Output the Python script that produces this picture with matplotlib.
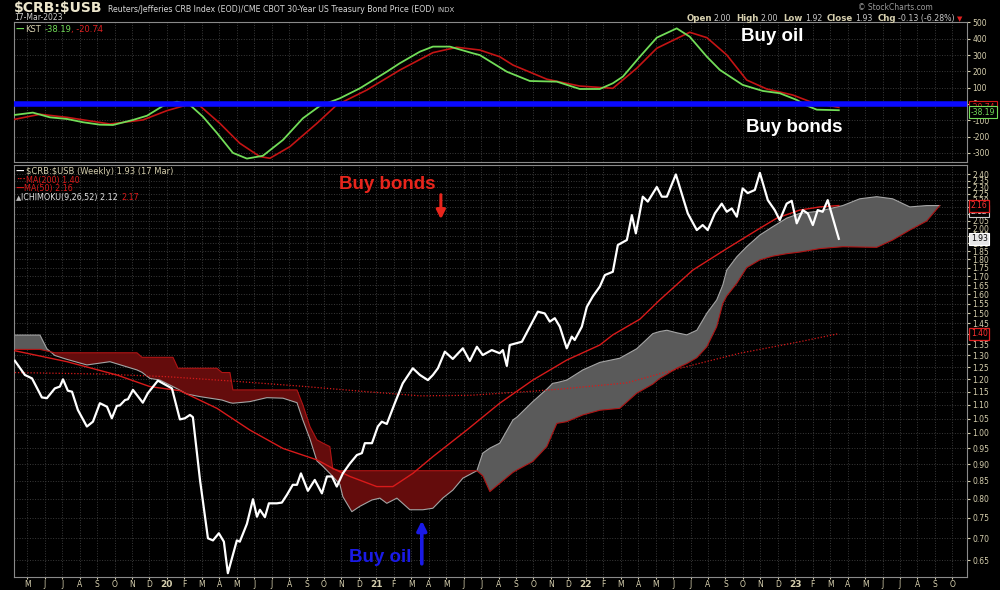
import numpy as np
import matplotlib
matplotlib.use('Agg')
import matplotlib.pyplot as plt
from matplotlib.transforms import IdentityTransform, blended_transform_factory
from matplotlib.ticker import FixedLocator, NullLocator, FuncFormatter

plt.rcParams['font.family'] = 'DejaVu Sans'
plt.rcParams['axes.unicode_minus'] = False

# ---- data (time as fractional years) ----
price_t = [2019.274, 2019.322, 2019.356, 2019.403, 2019.427, 2019.465, 2019.489, 2019.504, 2019.527, 2019.547,
           2019.575, 2019.618, 2019.647, 2019.680, 2019.714, 2019.737, 2019.761, 2019.776, 2019.800, 2019.814,
           2019.838, 2019.885, 2019.909, 2019.957, 2020.024, 2020.062, 2020.086, 2020.110, 2020.124, 2020.158,
           2020.196, 2020.220, 2020.248, 2020.272, 2020.291, 2020.334, 2020.348, 2020.382, 2020.411, 2020.430,
           2020.444, 2020.468, 2020.487, 2020.525, 2020.549, 2020.573, 2020.601, 2020.621, 2020.640, 2020.673,
           2020.706, 2020.740, 2020.764, 2020.788, 2020.811, 2020.840, 2020.874, 2020.907, 2020.931, 2020.945,
           2020.979, 2021.007, 2021.026, 2021.050, 2021.088, 2021.126, 2021.174, 2021.208, 2021.246, 2021.270,
           2021.294, 2021.327, 2021.365, 2021.413, 2021.446, 2021.480, 2021.508, 2021.551, 2021.589, 2021.604,
           2021.623, 2021.637, 2021.695, 2021.733, 2021.771, 2021.804, 2021.828, 2021.852, 2021.876, 2021.909,
           2021.933, 2021.947, 2021.981, 2022.005, 2022.033, 2022.067, 2022.091, 2022.129, 2022.153, 2022.196,
           2022.220, 2022.239, 2022.272, 2022.296, 2022.339, 2022.363, 2022.387, 2022.430, 2022.487, 2022.530,
           2022.558, 2022.582, 2022.616, 2022.649, 2022.673, 2022.697, 2022.721, 2022.749, 2022.773, 2022.807,
           2022.831, 2022.869, 2022.902, 2022.926, 2022.959, 2022.983, 2023.007, 2023.036, 2023.060, 2023.084,
           2023.107, 2023.131, 2023.155, 2023.208]
price = [1.277, 1.217, 1.203, 1.128, 1.125, 1.163, 1.170, 1.199, 1.154, 1.150,
         1.081, 1.022, 1.039, 1.106, 1.093, 1.051, 1.096, 1.098, 1.118, 1.121,
         1.157, 1.108, 1.144, 1.194, 1.163, 1.047, 1.051, 1.063, 1.055, 0.853,
         0.700, 0.695, 0.712, 0.692, 0.622, 0.695, 0.692, 0.735, 0.799, 0.753,
         0.771, 0.752, 0.788, 0.788, 0.790, 0.811, 0.839, 0.839, 0.872, 0.822,
         0.853, 0.815, 0.863, 0.863, 0.834, 0.872, 0.902, 0.928, 0.934, 0.966,
         0.966, 1.022, 1.039, 1.031, 1.106, 1.183, 1.245, 1.217, 1.196, 1.217,
         1.245, 1.317, 1.285, 1.332, 1.276, 1.339, 1.302, 1.324, 1.310, 1.324,
         1.255, 1.347, 1.362, 1.433, 1.508, 1.499, 1.458, 1.475, 1.433, 1.332,
         1.386, 1.370, 1.433, 1.533, 1.587, 1.642, 1.707, 1.726, 1.890, 1.922,
         2.091, 1.966, 2.226, 2.189, 2.300, 2.226, 2.226, 2.400, 2.103, 1.988,
         2.022, 1.988, 2.103, 2.174, 2.115, 2.139, 2.080, 2.289, 2.253, 2.277,
         2.413, 2.200, 2.127, 2.056, 2.174, 2.195, 2.034, 2.127, 2.103, 2.022,
         2.127, 2.115, 2.200, 1.930]

ma50_t = [2019.274, 2019.523, 2019.761, 2019.919, 2020.062, 2020.239, 2020.396, 2020.554, 2020.716, 2020.792,
          2020.874, 2021.002, 2021.079, 2021.174, 2021.270, 2021.432, 2021.589, 2021.747, 2021.909, 2022.067,
          2022.129, 2022.258, 2022.353, 2022.511, 2022.673, 2022.831, 2022.912, 2023.021, 2023.117, 2023.208]
ma50 = [1.321, 1.273, 1.217, 1.170, 1.154, 1.087, 1.010, 0.949, 0.913, 0.887,
        0.863, 0.834, 0.834, 0.872, 0.923, 1.010, 1.106, 1.196, 1.280, 1.347,
        1.394, 1.470, 1.569, 1.736, 1.867, 2.000, 2.070, 2.127, 2.150, 2.160]

ma200_t = [2019.274, 2019.680, 2020.000, 2020.315, 2020.635, 2020.955, 2021.208, 2021.446, 2021.747, 2021.876,
           2022.196, 2022.449, 2022.735, 2023.021, 2023.208]
ma200 = [1.227, 1.221, 1.210, 1.192, 1.172, 1.150, 1.134, 1.136, 1.152, 1.160,
         1.185, 1.245, 1.310, 1.362, 1.400]

# Ichimoku cloud: senkou span A / span B
cloud_t = [2019.274, 2019.394, 2019.427, 2019.465, 2019.523, 2019.618, 2019.728, 2019.857, 2019.881, 2019.919,
           2019.967, 2020.029, 2020.053, 2020.095, 2020.158, 2020.239, 2020.263, 2020.301, 2020.315, 2020.396,
           2020.477, 2020.554, 2020.621, 2020.649, 2020.683, 2020.716, 2020.745, 2020.778, 2020.792, 2020.826,
           2020.840, 2020.883, 2020.921, 2020.979, 2021.017, 2021.050, 2021.098, 2021.160, 2021.222, 2021.270,
           2021.317, 2021.365, 2021.413, 2021.480, 2021.508, 2021.542, 2021.589, 2021.652, 2021.671, 2021.747,
           2021.814, 2021.842, 2021.862, 2021.909, 2021.986, 2022.067, 2022.162, 2022.243, 2022.320, 2022.353,
           2022.387, 2022.434, 2022.482, 2022.530, 2022.578, 2022.625, 2022.654, 2022.673, 2022.721, 2022.768,
           2022.831, 2022.893, 2022.959, 2023.021, 2023.117, 2023.227, 2023.308, 2023.389, 2023.465, 2023.547,
           2023.628, 2023.690]
span_a = [1.393, 1.393, 1.330, 1.300, 1.283, 1.259, 1.273, 1.238, 1.228, 1.203,
          1.196, 1.170, 1.160, 1.141, 1.131, 1.121, 1.118, 1.108, 1.106, 1.112,
          1.127, 1.125, 1.108, 1.045, 0.980, 0.910, 0.893, 0.872, 0.863, 0.840,
          0.806, 0.766, 0.780, 0.797, 0.802, 0.788, 0.802, 0.771, 0.771, 0.775,
          0.802, 0.824, 0.858, 0.880, 0.934, 0.950, 0.966, 1.045, 1.055, 1.112,
          1.160, 1.183, 1.186, 1.196, 1.238, 1.270, 1.288, 1.330, 1.400, 1.410,
          1.416, 1.404, 1.394, 1.416, 1.500, 1.569, 1.650, 1.736, 1.816, 1.879,
          1.955, 2.011, 2.070, 2.103, 2.120, 2.160, 2.210, 2.226, 2.210, 2.150,
          2.160, 2.160]
span_b = [1.327, 1.327, 1.320, 1.312, 1.312, 1.312, 1.312, 1.312, 1.292, 1.292,
          1.292, 1.292, 1.245, 1.245, 1.245, 1.245, 1.227, 1.227, 1.157, 1.157,
          1.157, 1.157, 1.157, 1.100, 1.022, 0.977, 0.966, 0.955, 0.885, 0.880,
          0.880, 0.880, 0.880, 0.880, 0.880, 0.880, 0.880, 0.880, 0.880, 0.880,
          0.880, 0.880, 0.880, 0.880, 0.865, 0.820, 0.843, 0.875, 0.882, 0.908,
          0.955, 1.000, 1.033, 1.039, 1.063, 1.080, 1.087, 1.144, 1.180, 1.203,
          1.220, 1.245, 1.265, 1.290, 1.339, 1.433, 1.550, 1.590, 1.660, 1.750,
          1.797, 1.820, 1.835, 1.845, 1.867, 1.879, 1.877, 1.875, 1.922, 1.988,
          2.050, 2.160]

kst_t = [2019.274, 2019.360, 2019.442, 2019.523, 2019.599, 2019.680, 2019.742, 2019.838, 2019.905, 2019.981,
         2020.048, 2020.110, 2020.172, 2020.239, 2020.315, 2020.382, 2020.458, 2020.554, 2020.649, 2020.730,
         2020.826, 2020.921, 2021.050, 2021.112, 2021.208, 2021.270, 2021.351, 2021.461, 2021.494, 2021.623,
         2021.733, 2021.862, 2021.971, 2022.067, 2022.129, 2022.177, 2022.258, 2022.339, 2022.434, 2022.496,
         2022.578, 2022.640, 2022.749, 2022.845, 2022.926, 2023.007, 2023.055, 2023.103, 2023.208]
kst = [-67, -53, -82, -92, -112, -127, -129, -98, -72, -12,
       14, -6, -78, -178, -300, -335, -318, -221, -88, -12,
       35, 96, 198, 250, 321, 352, 352, 311, 300, 198,
       141, 137, 92, 92, 127, 168, 290, 407, 464, 413,
       290, 209, 117, 80, 66, 25, -10, -35, -38.19]

sig_t = [2019.274, 2019.394, 2019.523, 2019.728, 2019.885, 2020.000, 2020.095, 2020.158, 2020.253, 2020.348,
         2020.444, 2020.492, 2020.587, 2020.716, 2020.811, 2020.955, 2021.112, 2021.270, 2021.384, 2021.494,
         2021.589, 2021.652, 2021.814, 2021.971, 2022.129, 2022.243, 2022.339, 2022.496, 2022.578, 2022.673,
         2022.768, 2022.864, 2022.988, 2023.084, 2023.208]
sig = [-94, -63, -82, -123, -98, -41, -6, -12, -119, -241,
       -323, -333, -262, -119, -6, 86, 208, 315, 348, 331,
       290, 239, 152, 110, 96, 219, 342, 440, 407, 301,
       147, 92, 55, 8, -20.74]

price_ticks = [round(0.65 + 0.05 * i, 2) for i in range(36)]
kst_ticks = [-300, -200, -100, 0, 100, 200, 300, 400, 500]

BG = '#000000'
BEIGE = '#d6cfae'
GRID = '#3a3a3a'
RED = '#d81a1a'

fig = plt.figure(figsize=(10, 5.9), dpi=100, facecolor=BG)
ax1 = fig.add_axes([0.014, 1 - 162 / 590, 0.953, 140 / 590])
ax2 = fig.add_axes([0.014, 1 - 577 / 590, 0.953, 412 / 590])

x0, x1 = 2019.27, 2023.82
month_t, month_lab = [], []
for yr in range(2019, 2024):
    for m in range(1, 13):
        t = yr + (m - 1) / 12
        if x0 < t < x1:
            month_t.append(t)
            month_lab.append(str(yr)[2:] if m == 1 else 'JFMAMJJASOND'[m - 1])

for ax in (ax1, ax2):
    ax.set_facecolor(BG)
    ax.set_xlim(x0, x1)
    ax.set_xticks(month_t)
    ax.grid(True, color=GRID, ls=':', lw=0.7)
    ax.set_axisbelow(True)
    for s in ax.spines.values():
        s.set_color('#8a8a8a')
        s.set_linewidth(0.8)
    ax.yaxis.tick_right()
    ax.tick_params(axis='both', colors=BEIGE, labelsize=5.5, length=2, pad=2)
ax1.tick_params(axis='x', labelbottom=False, length=0)
ax2.tick_params(axis='x', pad=1, length=1.5)

# ---- KST panel ----
ax1.set_ylim(-356, 503)
ax1.set_yticks(kst_ticks)
ax1.plot(sig_t, sig, color='#c41414', lw=1.2, zorder=3)
ax1.plot(kst_t, kst, color='#72dd58', lw=1.3, zorder=3)
ax1.axhline(0, color='#0a0aff', lw=4, zorder=5)
ax1.text(2022.888, 417, 'Buy oil', color='white', fontsize=13.5, fontweight='bold',
         family='Liberation Sans', ha='center', va='center')
ax1.text(2022.993, -147, 'Buy bonds', color='white', fontsize=13.5, fontweight='bold',
         family='Liberation Sans', ha='center', va='center')

tr1 = blended_transform_factory(ax1.transAxes, ax1.transData)
ax1.text(1.004, sig[-1], f'{sig[-1]:.2f}', transform=tr1, color='#e02020', fontsize=5.5, va='center',
         bbox=dict(boxstyle='square,pad=0.2', fc='black', ec='#d01818', lw=0.8), clip_on=False, zorder=10)
ax1.text(1.004, kst[-1] - 12, f'{kst[-1]:.2f}', transform=tr1, color='#72dd58', fontsize=5.5, va='center',
         bbox=dict(boxstyle='square,pad=0.2', fc='black', ec='#72dd58', lw=0.8), clip_on=False, zorder=11)

# ---- price panel (log scale) ----
ax2.set_yscale('log')
ax2.set_ylim(0.614, 2.478)
ax2.yaxis.set_major_locator(FixedLocator(price_ticks))
ax2.yaxis.set_minor_locator(NullLocator())
ax2.yaxis.set_major_formatter(FuncFormatter(lambda v, p: f'{v:.2f}'))
ax2.set_xticklabels(month_lab)
for lab in ax2.get_xticklabels():
    if lab.get_text().isdigit():
        lab.set_fontweight('bold')
        lab.set_fontsize(6.5)

ct = np.array(cloud_t)
A = np.array(span_a)
B = np.array(span_b)
ax2.fill_between(ct, A, B, where=B >= A, interpolate=True, color='#640c0c', lw=0, zorder=1)
ax2.fill_between(ct, A, B, where=A > B, interpolate=True, color='#5a5a5a', lw=0, zorder=1)
ax2.plot(ct, A, color='#a5a5a5', lw=0.8, zorder=2)
ax2.plot(ct, B, color='#b01414', lw=0.8, zorder=2)

ax2.plot(ma200_t, ma200, color=RED, lw=0.9, ls=(0, (1, 1.5)), zorder=3)
ax2.plot(ma50_t, ma50, color=RED, lw=1.0, zorder=3)
ax2.plot(price_t, price, color='white', lw=1.6, zorder=4)

ax2.text(2021.052, 2.323, 'Buy bonds', color='#e8251c', fontsize=13.5, fontweight='bold',
         family='Liberation Sans', ha='center', va='center')
ax2.annotate('', xy=(2021.308, 2.043), xytext=(2021.308, 2.262),
             arrowprops=dict(arrowstyle='-|>', color='#e8251c', lw=2.2, mutation_scale=13))
ax2.text(2021.017, 0.657, 'Buy oil', color='#1a1ae6', fontsize=13.5, fontweight='bold',
         family='Liberation Sans', ha='center', va='center')
ax2.annotate('', xy=(2021.217, 0.75), xytext=(2021.217, 0.636),
             arrowprops=dict(arrowstyle='-|>', color='#1a1ae6', lw=2.6, mutation_scale=14))

tr2 = blended_transform_factory(ax2.transAxes, ax2.transData)
tag = dict(transform=tr2, fontsize=5.5, va='center', clip_on=False)
ax2.text(1.004, 2.12, '2.12', color='#dddddd', zorder=10,
         bbox=dict(boxstyle='square,pad=0.2', fc='black', ec='#cccccc', lw=0.8), **tag)
ax2.text(1.004, ma50[-1], f'{ma50[-1]:.2f}', color='#ff3030', zorder=11,
         bbox=dict(boxstyle='square,pad=0.2', fc='black', ec='#e02020', lw=0.9), **tag)
ax2.text(1.004, price[-1], f'{price[-1]:.2f}', color='black', zorder=11,
         bbox=dict(boxstyle='square,pad=0.2', fc='#e6e6e6', ec='#ffffff', lw=0.8), **tag)
ax2.text(1.004, ma200[-1], f'{ma200[-1]:.2f}', color='#ff3030', zorder=11,
         bbox=dict(boxstyle='square,pad=0.2', fc='black', ec='#e02020', lw=0.9), **tag)


# ---- header / legends drawn as runs of text ----
def seq(x, y, parts, align='left'):
    r = fig.canvas.get_renderer()
    objs = []
    for s, c, size, bold, gap in parts:
        t = fig.text(0, 0, s, color=c, fontsize=size, fontweight='bold' if bold else 'normal',
                     transform=IdentityTransform(), va='baseline')
        objs.append((t, t.get_window_extent(r).width + gap))
    if align == 'right':
        x -= sum(w for _, w in objs)
    for t, w in objs:
        t.set_position((x, y))
        x += w


seq(14, 578, [(r'\$CRB:\$USB', '#ece6cc', 10, True, 5),
              ('Reuters/Jefferies CRB Index (EOD)/CME CBOT 30-Year US Treasury Bond Price (EOD)', '#d8d8d8', 5.7, False, 4),
              ('INDX', '#cccccc', 5, False, 0)])
seq(14, 570, [('17-Mar-2023', '#cfcfcf', 5.5, False, 0)])
seq(933, 580, [('\u00a9 StockCharts.com', '#9a9a9a', 5.5, False, 0)], align='right')
seq(962, 569, [('Open', BEIGE, 6.2, True, 2), ('2.00', '#c8c8c8', 5.7, False, 5),
               ('High', BEIGE, 6.2, True, 2), ('2.00', '#c8c8c8', 5.7, False, 5),
               ('Low', BEIGE, 6.2, True, 2), ('1.92', '#c8c8c8', 5.7, False, 5),
               ('Close', BEIGE, 6.2, True, 2), ('1.93', '#c8c8c8', 5.7, False, 5),
               ('Chg', BEIGE, 6.2, True, 2), ('-0.13 (-6.28%)', '#c8c8c8', 5.7, False, 2),
               ('\u25bc', '#e02020', 5, False, 0)], align='right')

seq(16, 558, [('\u2014', '#72dd58', 6, True, 1), ('KST', BEIGE, 6, False, 3),
              (f'{kst[-1]:.2f}', '#72dd58', 6, False, 0), (f', {sig[-1]:.2f}', '#e02020', 6, False, 0)])

seq(16, 416, [('\u2014', 'white', 6, True, 1), (r'\$CRB:\$USB (Weekly) 1.93 (17 Mar)', BEIGE, 6, False, 0)])
seq(16, 407, [('\u00b7\u00b7\u00b7', RED, 6, True, 0), (f'MA(200) {ma200[-1]:.2f}', RED, 5.8, False, 0)])
seq(16, 399, [('\u2014', RED, 6, True, 0), (f'MA(50) {ma50[-1]:.2f}', RED, 5.8, False, 0)])
seq(16, 390, [('\u25b2', '#bbbbbb', 5, False, 0), ('ICHIMOKU(9,26,52) 2.12', '#e0e0e0', 5.8, False, 3),
              ('2.17', RED, 5.8, False, 0)])

fig.savefig('out.png', dpi=100, facecolor=BG)
plt.close(fig)
